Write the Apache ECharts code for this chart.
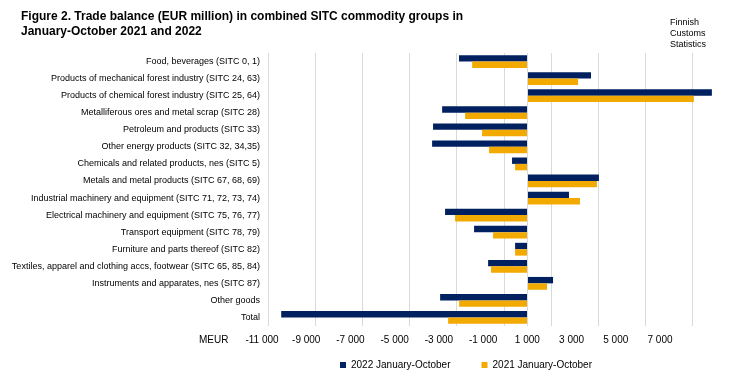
<!DOCTYPE html>
<html><head><meta charset="utf-8">
<script src="https://cdn.jsdelivr.net/npm/echarts@6/dist/echarts.min.js"></script>
<style>html,body{margin:0;padding:0;background:#fff}#c{width:737px;height:378px}</style>
</head><body><div id="c"></div>
<script>
const categories = [
  'Food, beverages (SITC 0, 1)',
  'Products of mechanical forest industry (SITC 24, 63)',
  'Products of chemical forest industry (SITC 25, 64)',
  'Metalliferous ores and metal scrap (SITC 28)',
  'Petroleum and products (SITC 33)',
  'Other energy products (SITC 32, 34,35)',
  'Chemicals and related products, nes (SITC 5)',
  'Metals and metal products (SITC 67, 68, 69)',
  'Industrial machinery and equipment (SITC 71, 72, 73, 74)',
  'Electrical machinery and equipment (SITC 75, 76, 77)',
  'Transport equipment (SITC 78, 79)',
  'Furniture and parts thereof (SITC 82)',
  'Textiles, apparel and clothing accs, footwear (SITC 65, 85, 84)',
  'Instruments and apparates, nes (SITC 87)',
  'Other goods',
  'Total'
];
const seriesNames = ['2022 January-October', '2021 January-October'];
const values2022 = [-2900, 2700, 7825, -3615, -4000, -4040, -650, 3035, 1765, -3490, -2260, -520, -1665, 1090, -3700, -10440];
const values2021 = [-2340, 2150, 7060, -2640, -1920, -1625, -520, 2950, 2230, -3065, -1455, -520, -1540, 835, -2895, -3360];
const axisMin = -11000, axisMax = 8000, tickStep = 2000, labelMax = 7000;

const FONT = "'Liberation Sans', Arial, sans-serif";
function fmt(v) {
  const s = String(Math.abs(v)).replace(/\B(?=(\d{3})+(?!\d))/g, ' ');
  return (v < 0 ? '-' : '') + s;
}
const grayLines = [];
for (let v = axisMin; v <= labelMax; v += tickStep) grayLines.push('#d9d9d9');
grayLines.push('rgba(0,0,0,0)');

const chart = echarts.init(document.getElementById('c'), null, {renderer: 'canvas'});
chart.setOption({
  animation: false,
  textStyle: {fontFamily: FONT},
  title: [
    {text: 'Figure 2. Trade balance (EUR million) in combined SITC commodity groups in\nJanuary-October 2021 and 2022',
     left: 16, top: 4, textStyle: {fontSize: 12, fontWeight: 'bold', color: '#000', fontFamily: FONT, lineHeight: 15}},
    {text: 'Finnish\nCustoms\nStatistics', left: 665, top: 12,
     textStyle: {fontSize: 9, fontWeight: 'normal', color: '#000', fontFamily: FONT, lineHeight: 11}}
  ],
  graphic: [{type: 'text', left: 199, top: 335, style: {text: 'MEUR', fontSize: 10, fill: '#000', fontFamily: FONT}}],
  legend: {
    data: seriesNames, left: 335, top: 355, icon: 'rect', itemWidth: 6, itemHeight: 6, itemGap: 31,
    textStyle: {fontSize: 10, color: '#000', fontFamily: FONT}
  },
  grid: [
    {left: 268, right: 21, top: 53, height: 273},
    {left: 262, right: 77, top: 53, height: 273}
  ],
  xAxis: [
    {type: 'value', gridIndex: 0, min: axisMin, max: axisMax, interval: tickStep,
     axisLine: {show: false}, axisTick: {show: false}, axisLabel: {show: false},
     splitLine: {show: true, showMaxLine: false, lineStyle: {color: grayLines, width: 1}}},
    {type: 'value', gridIndex: 1, min: axisMin, max: labelMax, interval: tickStep,
     axisLine: {show: false}, axisTick: {show: false}, splitLine: {show: false},
     axisLabel: {show: true, fontSize: 10, color: '#000', margin: 9, formatter: fmt, fontFamily: FONT}}
  ],
  yAxis: [
    {type: 'category', gridIndex: 0, data: categories, inverse: true,
     axisLine: {show: false}, axisTick: {show: false},
     axisLabel: {fontSize: 9, color: '#000', margin: 8, fontFamily: FONT}},
    {type: 'value', gridIndex: 1, show: false}
  ],
  series: [
    {name: seriesNames[0], type: 'bar', xAxisIndex: 0, yAxisIndex: 0, data: values2022,
     itemStyle: {color: '#002060'}, barGap: '0%', barCategoryGap: '25%',
     markLine: {silent: true, symbol: 'none', label: {show: false},
       lineStyle: {color: '#d9d9d9', type: 'solid', width: 1}, data: [{xAxis: 0}]}},
    {name: seriesNames[1], type: 'bar', xAxisIndex: 0, yAxisIndex: 0, data: values2021,
     itemStyle: {color: '#F2A900'}, barGap: '0%', barCategoryGap: '25%'}
  ]
});
</script></body></html>
